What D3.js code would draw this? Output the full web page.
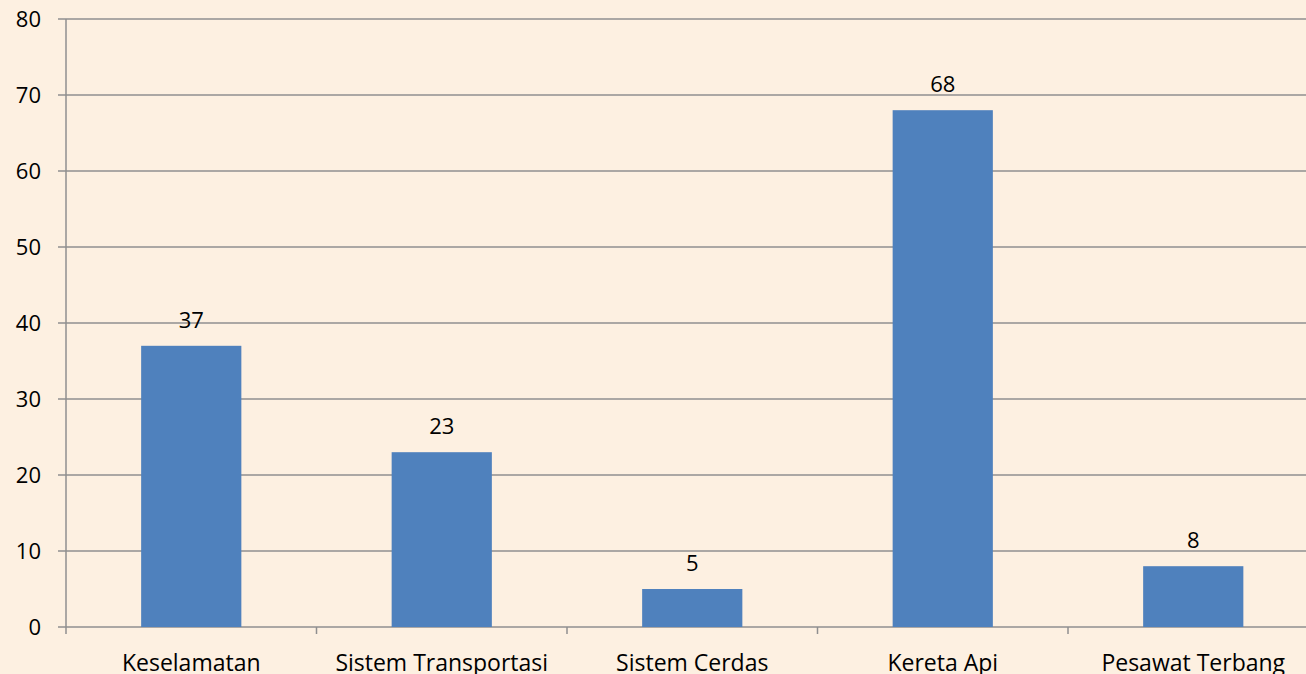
<!DOCTYPE html>
<html>
<head>
<meta charset="utf-8">
<script src="https://cdn.jsdelivr.net/npm/d3@7"></script>
<style>
  html, body { margin: 0; padding: 0; background: #fdf0e1; }
  text { font-family: "Open Sans", "Liberation Sans", sans-serif; fill: #000; }
</style>
</head>
<body>
<div id="target"></div>
<script>
var categories = ["Keselamatan", "Sistem Transportasi", "Sistem Cerdas", "Kereta Api", "Pesawat Terbang"];
var values = [37, 23, 5, 68, 8];
var yTicks = [0, 10, 20, 30, 40, 50, 60, 70, 80];

var WIDTH = 1306, HEIGHT = 674;
var plotLeft = 66, plotRight = 1318.5, plotTop = 19, plotBottom = 627;

var svg = d3.select("#target").append("svg")
  .attr("width", WIDTH).attr("height", HEIGHT)
  .style("display", "block");

svg.append("rect").attr("width", WIDTH).attr("height", HEIGHT).attr("fill", "#fdf0e1");

var x = d3.scaleBand().domain(categories).range([plotLeft, plotRight]).paddingInner(0.6).paddingOuter(0.3);
var xb = d3.scaleBand().domain(categories).range([plotLeft, plotRight]);
var y = d3.scaleLinear().domain([0, 80]).range([plotBottom, plotTop]);

var g = svg.append("g");

// gridlines
g.selectAll("line.grid")
  .data(yTicks)
  .enter()
  .append("line")
  .attr("class", "grid")
  .attr("x1", plotLeft - 8)
  .attr("x2", WIDTH)
  .attr("y1", function(d) { return y(d); })
  .attr("y2", function(d) { return y(d); })
  .attr("stroke", "#8f8f8f")
  .attr("stroke-width", 1.5);

// y tick labels
g.selectAll("text.ytick")
  .data(yTicks)
  .enter()
  .append("text")
  .attr("class", "ytick")
  .attr("x", 41)
  .attr("y", function(d) { return y(d); })
  .attr("dy", "0.36em")
  .attr("text-anchor", "end")
  .style("font-size", "22px")
  .text(function(d) { return d; });

// bars
g.selectAll("rect.bar")
  .data(values)
  .enter()
  .append("rect")
  .attr("class", "bar")
  .attr("x", function(d, i) { return x(categories[i]); })
  .attr("width", x.bandwidth())
  .attr("y", function(d) { return y(d); })
  .attr("height", function(d) { return plotBottom - y(d); })
  .attr("fill", "#4f81bd");

// value labels
g.selectAll("text.val")
  .data(values)
  .enter()
  .append("text")
  .attr("class", "val")
  .attr("x", function(d, i) { return x(categories[i]) + x.bandwidth() / 2; })
  .attr("y", function(d) { return y(d) - 18; })
  .attr("text-anchor", "middle")
  .style("font-size", "22px")
  .text(function(d) { return d; });

// y axis line
g.append("line")
  .attr("x1", plotLeft).attr("x2", plotLeft)
  .attr("y1", plotTop).attr("y2", plotBottom + 7)
  .attr("stroke", "#8f8f8f")
  .attr("stroke-width", 1.5);

// category tick marks
g.selectAll("line.ctick")
  .data(categories)
  .enter()
  .append("line")
  .attr("class", "ctick")
  .attr("x1", function(d) { return xb(d) + xb.bandwidth(); })
  .attr("x2", function(d) { return xb(d) + xb.bandwidth(); })
  .attr("y1", plotBottom)
  .attr("y2", plotBottom + 7)
  .attr("stroke", "#8f8f8f")
  .attr("stroke-width", 1.5);

// category labels
g.selectAll("text.cat")
  .data(categories)
  .enter()
  .append("text")
  .attr("class", "cat")
  .attr("x", function(d) { return xb(d) + xb.bandwidth() / 2; })
  .attr("y", 671)
  .attr("text-anchor", "middle")
  .style("font-size", "23px")
  .text(function(d) { return d; });
</script>
</body>
</html>
